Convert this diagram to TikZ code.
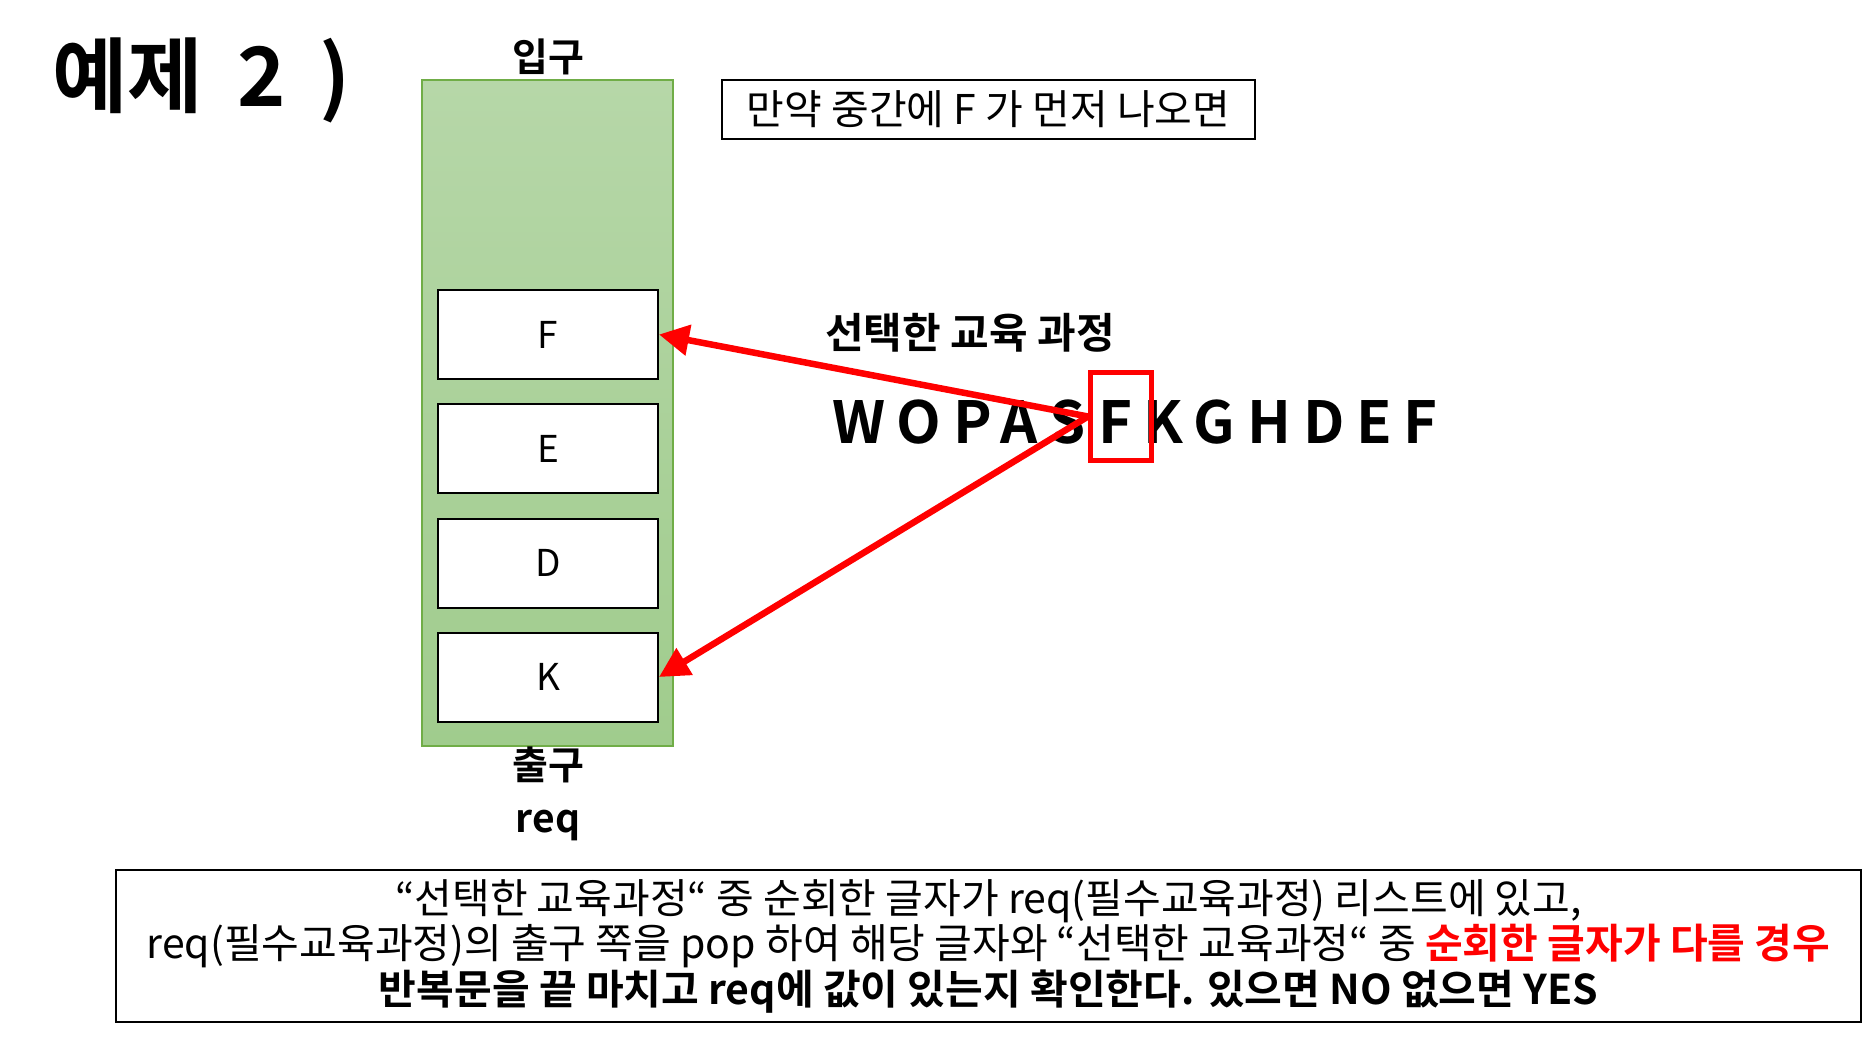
\documentclass[tikz,border=0pt]{standalone}
\usepackage{fontspec}
\setmainfont{Noto Sans CJK KR}[BoldFont={Noto Sans CJK KR Bold}]
\usetikzlibrary{arrows.meta}
\definecolor{stackline}{RGB}{112,173,71}
\definecolor{stacktop}{RGB}{182,215,168}
\definecolor{stackbot}{RGB}{160,204,141}
\definecolor{hired}{RGB}{255,0,0}
\newcommand\titlefont{\fontsize{82}{84}\selectfont\bfseries\spaceskip=34pt\relax}
\tikzset{
  cell/.style={draw, line width=2pt, fill=white, minimum width=220pt, minimum height=89pt, font=\fontsize{37}{40}\selectfont},
  lbl/.style={font=\fontsize{39}{40}\selectfont\bfseries},
  note/.style={draw, line width=1.5pt, font=\fontsize{41}{45.5}\selectfont},
  pick/.style={draw=hired, line width=5pt, minimum width=61pt, minimum height=88pt},
  redarrow/.style={draw=hired, line width=6.5pt, -{Triangle[length=30pt,width=30pt]}}
}
\begin{document}
\begin{tikzpicture}[x=1pt,y=-1pt]
    \useasboundingbox (0,0) rectangle (1862,1037);
    \node(title)[anchor=west, inner sep=0pt, font=\titlefont] at(52,80) {예제 2 )};
    \node(stack)[draw=stackline, line width=1.5pt, top color=stacktop, bottom color=stackbot, minimum width=251pt, minimum height=666pt] at(547.5,413) {};
   \node(cF)[cell] at(548,334.5) {F};
    \node(cE)[cell] at(548,448.5) {E};
    \node(cD)[cell] at(548,563) {D};
    \node(cK)[cell] at(548,677) {K};
    \node(in)[lbl] at(548,57) {입구};
    \node(out)[lbl] at(548,765) {출구};
    \node(req)[lbl] at(548,825) {req};
    \node(cond)[note, minimum width=533pt, minimum height=59pt] at(988.5,109.5) {만약 중간에 F 가 먼저 나오면};
    \node(seqlbl)[lbl, font=\fontsize{42}{44}\selectfont\bfseries] at(970,333) {선택한 교육 과정};
    \node(seq)[anchor=base west, inner sep=0pt, font=\fontsize{58}{60}\selectfont\bfseries\addfontfeature{LetterSpace=20.5}] at(832,443) {WOPASFKGHDEF};
    \node(pick)[pick] at(1121,416.5) {};
    \node(expl)[note, align=center, minimum width=1745pt, minimum height=152pt] at(988.5,946) {“선택한 교육과정“ 중 순회한 글자가 req(필수교육과정) 리스트에 있고,\\
      req(필수교육과정)의 출구 쪽을 pop 하여 해당 글자와 “선택한 교육과정“ 중 {\color{hired}\bfseries 순회한 글자가 다를 경우}\\
      {\bfseries 반복문을 끝 마치고 req에 값이 있는지 확인한다. 있으면 NO 없으면 YES}};
    \draw[redarrow] (pick.west) -- (cF.east);
    \draw[redarrow] (pick.west) -- (cK.east);
    \end{tikzpicture}
\end{document}
